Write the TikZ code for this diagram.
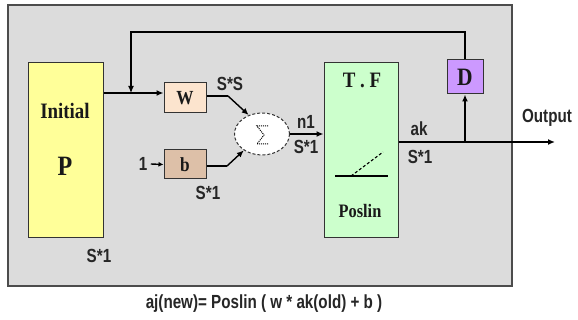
\documentclass[tikz,border=0pt]{standalone}
\usepackage{fontspec}
\usetikzlibrary{arrows.meta,shapes.geometric}
\newfontfamily\labfont[FakeStretch=0.8]{Liberation Sans}
\newfontfamily\boxfont[FakeStretch=0.86]{Liberation Serif}
\definecolor{initcol}{HTML}{FFFF99}
\definecolor{tfcol}{HTML}{CCFFCC}
\definecolor{wcol}{HTML}{FCE4CE}
\definecolor{bcol}{HTML}{DDC0A8}
\definecolor{dcol}{HTML}{CC99FF}
\definecolor{bgcol}{HTML}{DCDCDC}

\begin{document}
\begin{tikzpicture}[x=1pt,y=-1pt,
    blk/.style={draw=black!80, line width=1pt, inner sep=0pt},
    lab/.style={font=\labfont\bfseries\fontsize{19}{19}\selectfont, text=black!85},
    big/.style={font=\boxfont\bfseries\fontsize{22}{22}\selectfont, text=black!90},
    flow/.style={line width=1.8pt, -{Latex[length=7pt,width=6pt]}},
    thin/.style={line width=1.1pt}]
    \useasboundingbox (0,0) rectangle (578,320);
    % background panel
    \draw[fill=bgcol, draw=black!70, line width=1.2pt] (8,5) rectangle (512,286);

    % blocks
    \node[blk, fill=initcol, minimum width=75pt, minimum height=175pt] (P) at (65.5,150.5) {};
    \node[big] (init) at (65,111) {Initial};
    \node[big, font=\boxfont\bfseries\fontsize{28}{28}\selectfont] (pname) at (65,166) {P};
    \node[lab] (sp) at (99,256) {S*1};

    \node[blk, fill=wcol, minimum width=42pt, minimum height=30pt, big, font=\boxfont\bfseries\fontsize{20}{20}\selectfont] (W) at (185,98) {W};
    \node[blk, fill=bcol, minimum width=42pt, minimum height=29pt, big, font=\boxfont\bfseries\fontsize{20}{20}\selectfont] (b) at (185,164.5) {b};
    \node[lab] (one) at (143,164) {1};
    \node[lab] (ss) at (230,84) {S*S};
    \node[lab] (sb) at (208,193) {S*1};

    \node[ellipse, draw=black!80, densely dashed, line width=1pt, fill=white,
          minimum width=55pt, minimum height=42pt, inner sep=0pt] (sum) at (262,134) {};
    \draw[densely dotted, line width=1pt] (268,126) -- (257,126) -- (264,135) -- (257,144) -- (268,144);
    \node[lab] (n1) at (306,122) {n1};
    \node[lab] (sn) at (306,147) {S*1};

    \node[blk, fill=tfcol, minimum width=74pt, minimum height=175pt] (tf) at (361,150.5) {};
    \node[big] (tft) at (362,80) {T . F};
    \node[big, font=\boxfont\bfseries\fontsize{19}{19}\selectfont] (pos) at (360,211) {Poslin};
    \draw[thin] (335,176) -- (388,176);
    \draw[thin, densely dashed] (351,176) -- (383,152);

    \node[blk, fill=dcol, minimum width=36pt, minimum height=34pt, big, font=\boxfont\bfseries\fontsize{25}{25}\selectfont] (D) at (465,77) {D};
    \node[lab] (ak) at (419,129) {ak};
    \node[lab] (sa) at (420,157) {S*1};
    \node[lab] (outl) at (547,118) {Output};

    % connections
    \coordinate (jn) at (131,93);
    \coordinate (top) at (131,32);
    \coordinate (br) at (465,142);
    \coordinate (out) at (555,142);
    \coordinate (wk) at (228,96);
    \coordinate (bk) at (227,166);
    \draw[flow] (P.east |- jn) -- (W.west |- jn);
    \draw[thin, -{Latex[length=7pt,width=6pt]}] (D.north) |- (top) -- (jn);
    \draw[thin] (W.east |- wk) -- (wk);
    \draw[line width=1.4pt, -{Latex[length=7pt,width=6pt]}] (wk) -- (sum.125);
    \draw[thin] (b.east |- bk) -- (bk);
    \draw[line width=1.4pt, -{Latex[length=7pt,width=6pt]}] (bk) -- (sum.222);
    \draw[line width=1.4pt, -{Latex[length=5pt,width=5pt]}] (one.east) -- (b.west);
    \draw[flow] (sum.east) -- (tf.west |- sum.east);
    \draw[flow] (tf.east |- br) -- (out);
    \draw[flow] (br) -- (D.south);

    % caption
    \node[lab] (cap) at (264,304) {aj(new)= Poslin ( w * ak(old) + b )};
\end{tikzpicture}
\end{document}
